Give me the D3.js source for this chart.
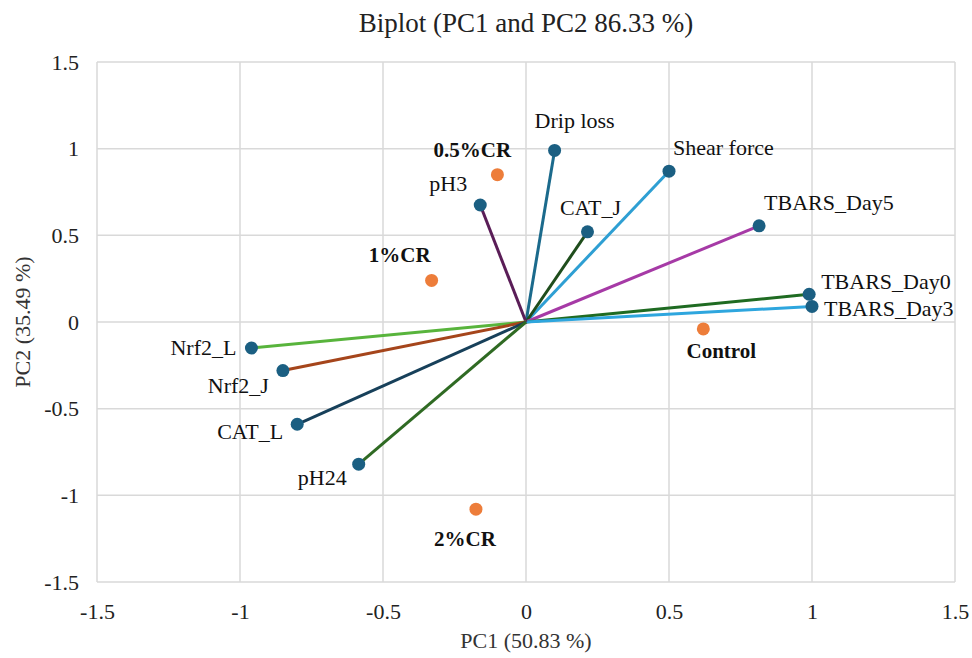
<!DOCTYPE html>
<html>
<head>
<meta charset="utf-8">
<script src="https://cdn.jsdelivr.net/npm/d3@7"></script>
<style>
  body { margin: 0; background: #fff; }
  svg { display: block; font-family: "Liberation Serif", "Times New Roman", serif; }
</style>
</head>
<body>
<div id="chart"></div>
<script>
var width = 972;
var height = 658;
var margin = {top: 62, right: 17, bottom: 76, left: 97};

// variable loadings (PC1, PC2)
var varNames = ["Drip loss", "Shear force", "CAT_J", "TBARS_Day5", "TBARS_Day0", "TBARS_Day3",
                "pH3", "Nrf2_L", "Nrf2_J", "CAT_L", "pH24"];
var varPC1 = [0.10, 0.50, 0.215, 0.815, 0.99, 1.00, -0.16, -0.96, -0.85, -0.80, -0.585];
var varPC2 = [0.99, 0.87, 0.52, 0.555, 0.16, 0.09, 0.675, -0.15, -0.28, -0.59, -0.82];

// observation scores
var obsNames = ["0.5%CR", "1%CR", "Control", "2%CR"];
var obsPC1 = [-0.10, -0.33, 0.62, -0.175];
var obsPC2 = [0.85, 0.24, -0.04, -1.08];

var tickValues = [-1.5, -1, -0.5, 0, 0.5, 1, 1.5];

// styles
var lineColors = ["#1b6a8c", "#2e9fd3", "#1f4d1c", "#a63aa6", "#1f6b22", "#2ea6de",
                  "#5a1d57", "#58b43c", "#a5451b", "#17405a", "#2f6a23"];
// label offsets to baseline [dx, dy, anchor]
var varLabelPos = [
  [20, -22, "middle"], [4, -16, "start"], [3, -17, "middle"], [5, -16, "start"],
  [12, -5, "start"], [12, 10, "start"], [-13, -14, "end"], [-15, 7, "end"],
  [-14, 22, "end"], [-14, 15, "end"], [-12, 21, "end"]
];
var obsLabelPos = [[-25, -18, "middle"], [-1, -18, "end"], [18, 29, "middle"], [-11, 37, "middle"]];

var svg = d3.select("#chart").append("svg")
  .attr("width", width)
  .attr("height", height);

var x = d3.scaleLinear().domain([-1.5, 1.5]).range([margin.left, width - margin.right]);
var y = d3.scaleLinear().domain([-1.5, 1.5]).range([height - margin.bottom, margin.top]);

// gridlines
svg.append("g")
  .selectAll("line")
  .data(tickValues)
  .join("line")
  .attr("x1", d => x(d)).attr("x2", d => x(d))
  .attr("y1", y(1.5)).attr("y2", y(-1.5))
  .attr("stroke", "#d9d9d9").attr("stroke-width", 1.5);

svg.append("g")
  .selectAll("line")
  .data(tickValues)
  .join("line")
  .attr("y1", d => y(d)).attr("y2", d => y(d))
  .attr("x1", x(-1.5)).attr("x2", x(1.5))
  .attr("stroke", "#d9d9d9").attr("stroke-width", 1.5);

// axes tick labels (plain hyphen for negatives, like the original)
var fmt = d => String(d);
var xAxis = d3.axisBottom(x).tickValues(tickValues).tickSize(0).tickPadding(0).tickFormat(fmt);
var gx = svg.append("g")
  .attr("transform", "translate(0,603)")
  .call(xAxis);
gx.select(".domain").remove();
gx.selectAll("text").attr("font-size", 22).attr("fill", "#222").attr("font-family", "Liberation Serif");

var yAxis = d3.axisLeft(y).tickValues(tickValues).tickSize(0).tickPadding(0).tickFormat(fmt);
var gy = svg.append("g")
  .attr("transform", "translate(79,0)")
  .call(yAxis);
gy.select(".domain").remove();
gy.selectAll("text").attr("font-size", 22).attr("fill", "#222").attr("font-family", "Liberation Serif");

// titles
svg.append("text")
  .attr("x", x(0)).attr("y", 32)
  .attr("text-anchor", "middle")
  .attr("font-size", 27).attr("fill", "#222")
  .text("Biplot (PC1 and PC2 86.33 %)");

svg.append("text")
  .attr("x", x(0)).attr("y", 648)
  .attr("text-anchor", "middle")
  .attr("font-size", 22).attr("fill", "#333")
  .text("PC1 (50.83 %)");

svg.append("text")
  .attr("transform", "translate(30," + y(0) + ") rotate(-90)")
  .attr("text-anchor", "middle")
  .attr("font-size", 22).attr("fill", "#333")
  .text("PC2 (35.49 %)");

// vectors
var vars = varNames.map((n, i) => ({name: n, pc1: varPC1[i], pc2: varPC2[i], i: i}));
svg.append("g")
  .selectAll("line")
  .data(vars)
  .join("line")
  .attr("x1", x(0)).attr("y1", y(0))
  .attr("x2", d => x(d.pc1)).attr("y2", d => y(d.pc2))
  .attr("stroke", d => lineColors[d.i])
  .attr("stroke-width", 3);

svg.append("g")
  .selectAll("circle")
  .data(vars)
  .join("circle")
  .attr("cx", d => x(d.pc1)).attr("cy", d => y(d.pc2))
  .attr("r", 6.5)
  .attr("fill", "#1b5f82");

svg.append("g")
  .selectAll("text")
  .data(vars)
  .join("text")
  .attr("x", d => x(d.pc1) + varLabelPos[d.i][0])
  .attr("y", d => y(d.pc2) + varLabelPos[d.i][1])
  .attr("text-anchor", d => varLabelPos[d.i][2])
  .attr("font-size", 22).attr("fill", "#111")
  .text(d => d.name);

// observations
var obs = obsNames.map((n, i) => ({name: n, pc1: obsPC1[i], pc2: obsPC2[i], i: i}));
svg.append("g")
  .selectAll("circle")
  .data(obs)
  .join("circle")
  .attr("cx", d => x(d.pc1)).attr("cy", d => y(d.pc2))
  .attr("r", 6.5)
  .attr("fill", "#ed7d3a");

svg.append("g")
  .selectAll("text")
  .data(obs)
  .join("text")
  .attr("x", d => x(d.pc1) + obsLabelPos[d.i][0])
  .attr("y", d => y(d.pc2) + obsLabelPos[d.i][1])
  .attr("text-anchor", d => obsLabelPos[d.i][2])
  .attr("font-size", 21).attr("font-weight", "bold").attr("fill", "#111")
  .text(d => d.name);
</script>
</body>
</html>
